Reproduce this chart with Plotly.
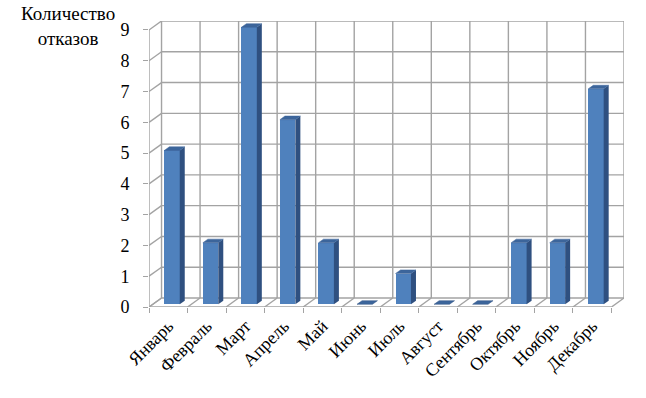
import plotly.graph_objects as go

months = ["Январь", "Февраль", "Март", "Апрель", "Май", "Июнь", "Июль",
          "Август", "Сентябрь", "Октябрь", "Ноябрь", "Декабрь"]
failures = [5, 2, 9, 6, 2, 0, 1, 0, 0, 2, 2, 7]
y_ticks = list(range(0, 10))
y_title = "Количество<br>отказов"

# pseudo-3D geometry (data units)
DX, DY = 0.325, 0.292      # depth of the chart box
F = 0.3                    # bar front-face position within depth
BW = 0.40                  # bar width
BDX, BDY = 0.13, 0.117     # bar depth

GRID = "#a3a3a3"
FRONT = "#4f81bd"
SIDE = "#2f5080"
TOP = "#3c659b"
FONT = "Liberation Serif"

n = len(months)
x_lo, x_hi = -0.5, n - 0.5
y_max = max(y_ticks)

fig = go.Figure()

def seg(x0, y0, x1, y1):
    fig.add_shape(type="line", xref="x", yref="y", x0=x0, y0=y0, x1=x1, y1=y1,
                  line=dict(color=GRID, width=1.4), layer="below")

# back wall horizontals + left wall diagonals
for k in y_ticks:
    seg(x_lo + DX, k + DY, x_hi + DX, k + DY)
    seg(x_lo, k, x_lo + DX, k + DY)
# back wall verticals + floor diagonals
for b in range(n + 1):
    xb = x_lo + b
    seg(xb + DX, DY, xb + DX, y_max + DY)
    seg(xb, 0, xb + DX, DY)
# front axes
seg(x_lo, 0, x_hi, 0)
seg(x_lo, 0, x_lo, y_max)

xs = [i + F * DX for i in range(n)]
fig.add_trace(go.Bar(x=xs, y=failures, base=[F * DY] * n, width=BW,
                     marker=dict(color=FRONT, line=dict(width=0)),
                     showlegend=False, hoverinfo="skip"))

# side faces and top faces
for xc, v in zip(xs, failures):
    xl, xr = xc - BW / 2, xc + BW / 2
    y0, y1 = F * DY, F * DY + v
    if v > 0:
        fig.add_trace(go.Scatter(
            x=[xr, xr, xr + BDX, xr + BDX, xr],
            y=[y0, y1, y1 + BDY, y0 + BDY, y0],
            fill="toself", fillcolor=SIDE, mode="lines",
            line=dict(width=0, color=SIDE), showlegend=False, hoverinfo="skip"))
    fig.add_trace(go.Scatter(
        x=[xl, xr, xr + BDX, xl + BDX, xl],
        y=[y1, y1, y1 + BDY, y1 + BDY, y1],
        fill="toself", fillcolor=TOP, mode="lines",
        line=dict(width=0.5, color=SIDE if v == 0 else TOP),
        showlegend=False, hoverinfo="skip"))

# x-axis tick marks at category boundaries (overlay axis)
fig.add_trace(go.Scatter(x=[x_lo], y=[0], xaxis="x2", mode="markers",
                         marker=dict(opacity=0), showlegend=False, hoverinfo="skip"))

W, H = 646, 398
px_x = 38.5
px_y = 30.78
left = 149
y_zero_px = 307.5
plot_w = (n + DX) * px_x
plot_h = (y_max + DY) * px_y
top = y_zero_px - plot_h

fig.update_layout(
    width=W, height=H,
    margin=dict(l=left, r=W - left - plot_w, t=top, b=H - y_zero_px, pad=0),
    paper_bgcolor="white", plot_bgcolor="white",
    bargap=0,
    xaxis=dict(range=[x_lo, x_hi + DX], tickmode="array",
               tickvals=list(range(n)), ticktext=months, tickangle=-45,
               ticks="", showgrid=False, zeroline=False, showline=False,
               ticklabelstandoff=4,
               tickfont=dict(family=FONT, size=18, color="black")),
    xaxis2=dict(range=[x_lo, x_hi + DX], overlaying="x", side="bottom",
                tickmode="array", tickvals=[x_lo + b for b in range(n + 1)],
                ticks="outside", ticklen=5, tickcolor=GRID, tickwidth=1.4,
                showticklabels=False, showgrid=False, zeroline=False, showline=False),
    yaxis=dict(range=[0, y_max + DY], tickmode="array", tickvals=y_ticks,
               ticks="outside", ticklen=5, tickcolor=GRID, tickwidth=1.4,
               showgrid=False, zeroline=False, showline=False,
               ticklabelstandoff=10,
               tickfont=dict(family=FONT, size=18, color="black")),
)
fig.add_annotation(text=y_title, xref="paper", yref="paper",
                   x=(68 - left) / plot_w, y=1 + (top - 26) / plot_h,
                   xanchor="center", yanchor="middle", showarrow=False,
                   font=dict(family=FONT, size=19, color="black"), align="center")

fig.write_html("out.html")
